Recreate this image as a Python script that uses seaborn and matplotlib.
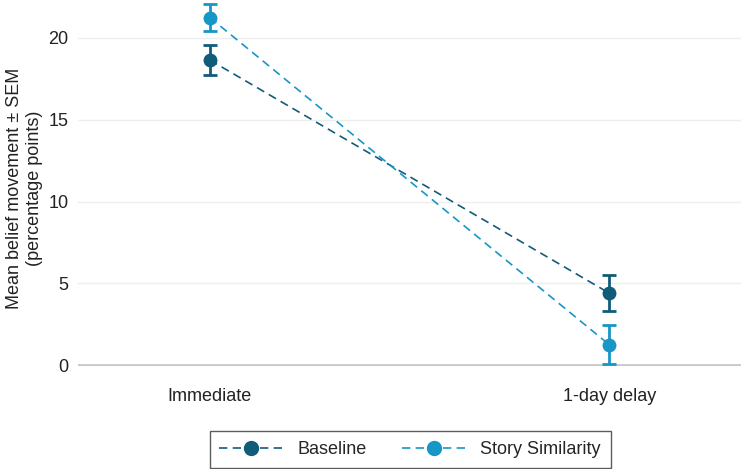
import matplotlib
matplotlib.use("Agg")
import matplotlib.pyplot as plt
import seaborn as sns
import pandas as pd
from matplotlib.lines import Line2D

conditions = ["Immediate", "1-day delay"]
series = ["Baseline", "Story Similarity"]
baseline_mean = [18.65, 4.4]
baseline_sem = [0.9, 1.1]
story_mean = [21.25, 1.25]
story_sem = [0.85, 1.2]
colors = {"Baseline": "#115c78", "Story Similarity": "#1896c6"}

sns.set_theme(style="white")
plt.rcParams["font.family"] = ["Liberation Sans", "DejaVu Sans"]

rows = []
for s, m, e in [("Baseline", baseline_mean, baseline_sem), ("Story Similarity", story_mean, story_sem)]:
    for i, c in enumerate(conditions):
        rows.append({"series": s, "condition": c, "pos": i, "mean": m[i], "sem": e[i]})
df = pd.DataFrame(rows)

W, H = 741, 469
fig = plt.figure(figsize=(W / 100, H / 100), dpi=100)
ax_left, ax_bottom_px = 78, 377
ax = fig.add_axes([ax_left / W, 1 - ax_bottom_px / H, (W - ax_left) / W, ax_bottom_px / H])

dash = (0, (5, 3.2))
sns.lineplot(data=df, x="pos", y="mean", hue="series", palette=colors, ax=ax,
             linestyle=dash, marker="o", markersize=10, linewidth=1.2,
             markeredgewidth=0, legend=False, zorder=3)
for s in series:
    d = df[df.series == s]
    ax.errorbar(d["pos"], d["mean"], yerr=d["sem"], fmt="none", ecolor=colors[s],
                elinewidth=2, capsize=5, capthick=2, zorder=2)

ax.axhline(0, color="#c4c4c4", linewidth=1.2, zorder=1)
ax.set_xlim(-0.33, 1.33)
ax.set_ylim(-0.73, 22.32)
ax.set_xticks(range(len(conditions)))
ax.set_xticklabels(conditions)
ax.set_yticks([0, 5, 10, 15, 20])
ax.set_xlabel("")
ax.set_ylabel("Mean belief movement ± SEM\n(percentage points)", fontsize=13, color="#222222", labelpad=4)
ax.yaxis.grid(True, color="#eeeeee", linewidth=1)
ax.set_axisbelow(True)
for sp in ["top", "right", "left", "bottom"]:
    ax.spines[sp].set_visible(False)
ax.tick_params(axis="x", labelsize=13, colors="#222222", length=4.5, width=0.9, color="#555555", pad=3.5, direction="out")
ax.tick_params(axis="y", labelsize=13, colors="#222222", length=0, pad=7)

handles = [Line2D([0], [0], color=colors[s], linestyle=dash, linewidth=1.2, marker="o", markersize=10) for s in series]
leg = fig.legend(handles, series, loc="lower center", bbox_to_anchor=(410 / W, 1 / H), ncol=2,
                 frameon=True, fontsize=13, handlelength=3.5, columnspacing=2.0, borderpad=0.55,
                 borderaxespad=0, handletextpad=0.8, fancybox=False, edgecolor="#333333")
leg.get_frame().set_linewidth(1)

fig.savefig("out.png", dpi=100)
